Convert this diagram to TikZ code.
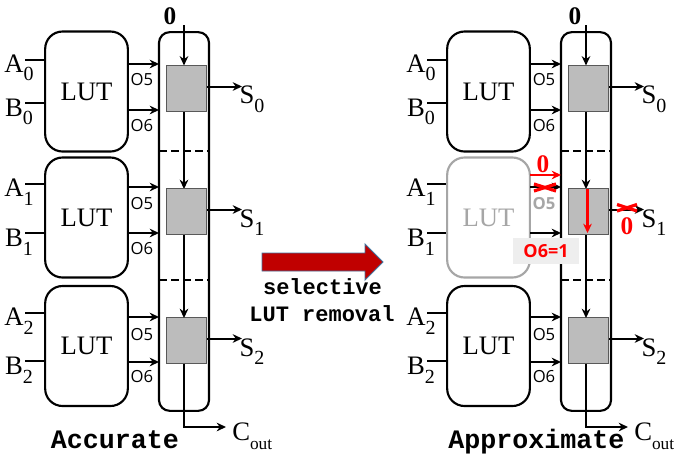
\documentclass[tikz,border=0pt]{standalone}
\usepackage{fontspec}
\setmainfont{Liberation Serif}
\newfontfamily\labfont{Open Sans}
\setmonofont{Liberation Mono}
\usetikzlibrary{arrows.meta}
\definecolor{lutgray}{HTML}{A6A6A6}
\definecolor{cellgray}{HTML}{BCBCBC}
\definecolor{bigred}{HTML}{C00000}
\definecolor{bigblue}{HTML}{41719C}
\definecolor{pale}{HTML}{EEEEEE}
\tikzset{
  x=0.75pt,y=-0.75pt,
  wire/.style={line width=1.5pt,draw=black},
  arr/.style={wire,-{Stealth[length=7pt,width=6.5pt]}},
  redarr/.style={line width=1.6pt,draw=red,-{Stealth[length=7pt,width=6.5pt]}},
  lutbox/.style={draw=#1,line width=1.6pt,rounded corners=13pt,minimum width=62pt,minimum height=90pt,inner sep=0pt,fill=white,font=\fontsize{20}{20}\selectfont,text=#1},
  lutbox/.default=black,
  panelbox/.style={draw=black,line width=1.6pt,rounded corners=8pt,minimum width=37.5pt,minimum height=284pt,inner sep=0pt},
  cell/.style={draw=black!65,line width=0.6pt,fill=cellgray,minimum width=30pt,minimum height=34pt,inner sep=0pt},
  sig/.style={inner sep=0pt,font=\fontsize{20}{20}\selectfont},
  port/.style={inner sep=0pt,font=\labfont\fontsize{12.5}{12.5}\selectfont},
  zero/.style={inner sep=0pt,font=\fontsize{19}{19}\selectfont\bfseries},
  caption/.style={inner sep=0pt,anchor=base,font=\ttfamily\bfseries\fontsize{#1}{#1}\selectfont},
  cutmark/.style={draw=red,line width=2.4pt},
}
\newcommand{\subl}[2]{#1\raisebox{-0.32em}{\fontsize{15}{15}\selectfont #2}}
% prefix, row, lut cy, cell cy, A y, B y, O5 y, O6 y, colour of LUT
\newcommand{\lutrow}[9]{
  \node[lutbox=#9] (#1lut#2) at (86.5,#3) {LUT};
  \node[cell] (#1cell#2) at (186,#4) {};
  \node[sig,anchor=center] (#1a#2) at (19,#5+8) {\subl{A}{#2}};
  \node[sig,anchor=center] (#1b#2) at (19,#6+9) {\subl{B}{#2}};
  \coordinate (#1ain#2) at (25,#5);
  \coordinate (#1bin#2) at (25,#6);
  \draw[wire] (#1ain#2) -- (#1ain#2 -| #1lut#2.west);
  \draw[wire] (#1bin#2) -- (#1bin#2 -| #1lut#2.west);
  \coordinate (#1o5#2) at (128,#7);
  \coordinate (#1o6#2) at (128,#8);
  \draw[arr] (#1o5#2) -- ++(31,0);
  \draw[arr] (#1o6#2) -- ++(31,0);
  \node[sig,anchor=center] (#1s#2) at (252,#4+11) {\subl{S}{#2}};
  \coordinate (#1sout#2) at (207,#4-2);
  \draw[arr] (#1sout#2) -- ++(35,0);
}
\newcommand{\adderpanel}[2]{
  \node[panelbox] (#1panel) at (184,221.5) {};
  \lutrow{#1}{0}{91.5}{88.5}{60}{103}{64}{110}{black}
  \lutrow{#1}{2}{346}{340.5}{313}{361}{317}{362}{black}
  \draw[wire,dash pattern=on 6pt off 3pt] (159,151) -- (209,151);
  \draw[wire,dash pattern=on 6pt off 3pt] (159,280) -- (209,280);
  \node[zero] (#1top) at (#2,16) {0};
  \coordinate (#1carry) at (184,25);
  \coordinate (#1coutend) at (226,427);
  \draw[arr] (#1carry) -- (#1cell0.north -| #1carry);
  \draw[arr] (#1cell0.south -| #1carry) -- (184,189);
  \draw[arr] (184,234) -- (184,318);
  \node[inner sep=0pt,font=\fontsize{20}{20}\selectfont,anchor=west] (#1cout) at (232,436) {C\raisebox{-0.32em}{\fontsize{13}{13}\selectfont out}};
  \draw[arr] (#1cell2.south -| #1carry) |- (#1coutend);
  \node[port] (#1p05) at (142,80) {O5};
  \node[port] (#1p06) at (142,126) {O6};
  \node[port] (#1p25) at (142,335) {O5};
  \node[port] (#1p26) at (142,377) {O6};
}
\begin{document}
\begin{tikzpicture}
\useasboundingbox (0,0) rectangle (674,454);
% left panel
\adderpanel{L}{170}
\lutrow{L}{1}{217.5}{211.5}{184}{233}{187}{233}{black}
\node[port] (Lp15) at (142,204) {O5};
\node[port] (Lp16) at (142,249) {O6};
\node[caption=20] (Lcap) at (115,448) {Accurate};
% centre arrow
\draw[bigblue,line width=0.7pt,fill=bigred] (262,253) -- (365,253) -- (365,244) -- (383,262) -- (365,280) -- (365,271) -- (262,271) -- cycle;
\node[caption=16.5,anchor=center] (sel) at (322.5,287) {selective};
\node[caption=16.5,anchor=center] (rem) at (322,314) {LUT removal};
% right panel
\begin{scope}[xshift=301.5pt]
\adderpanel{R}{173}
\lutrow{R}{1}{217.5}{211.5}{184}{233}{187}{233}{lutgray}
\node[port,text=lutgray,font=\labfont\bfseries\fontsize{12.5}{12.5}\selectfont] (Rp15) at (142,204) {O5};
\draw[redarr] (128,175) -- (159,175);
\node[zero,text=red] (R0a) at (141,164) {0};
\coordinate (Rxa1) at (132,184);
\coordinate (Rxa2) at (154,191);
\coordinate (Rxa3) at (132,191);
\coordinate (Rxa4) at (154,184);
\draw[cutmark] (Rxa1) -- (Rxa2);
\draw[cutmark] (Rxa3) -- (Rxa4);
\draw[redarr] (185.5,189) -- (185.5,233);
\coordinate (Rxb1) at (215,204.5);
\coordinate (Rxb2) at (235,211);
\coordinate (Rxb3) at (215,211);
\coordinate (Rxb4) at (235,204.5);
\draw[cutmark] (Rxb1) -- (Rxb2);
\draw[cutmark] (Rxb3) -- (Rxb4);
\node[zero,text=red] (R0b) at (225,226) {0};
\node[fill=pale,minimum width=50pt,minimum height=19.5pt,inner sep=0pt,text=red,font=\labfont\bfseries\fontsize{13.5}{13.5}\selectfont] (Rmask) at (144,251) {O6=1};
\node[caption=20] (Rcap) at (134.5,448) {Approximate};
\end{scope}
\end{tikzpicture}
\end{document}
